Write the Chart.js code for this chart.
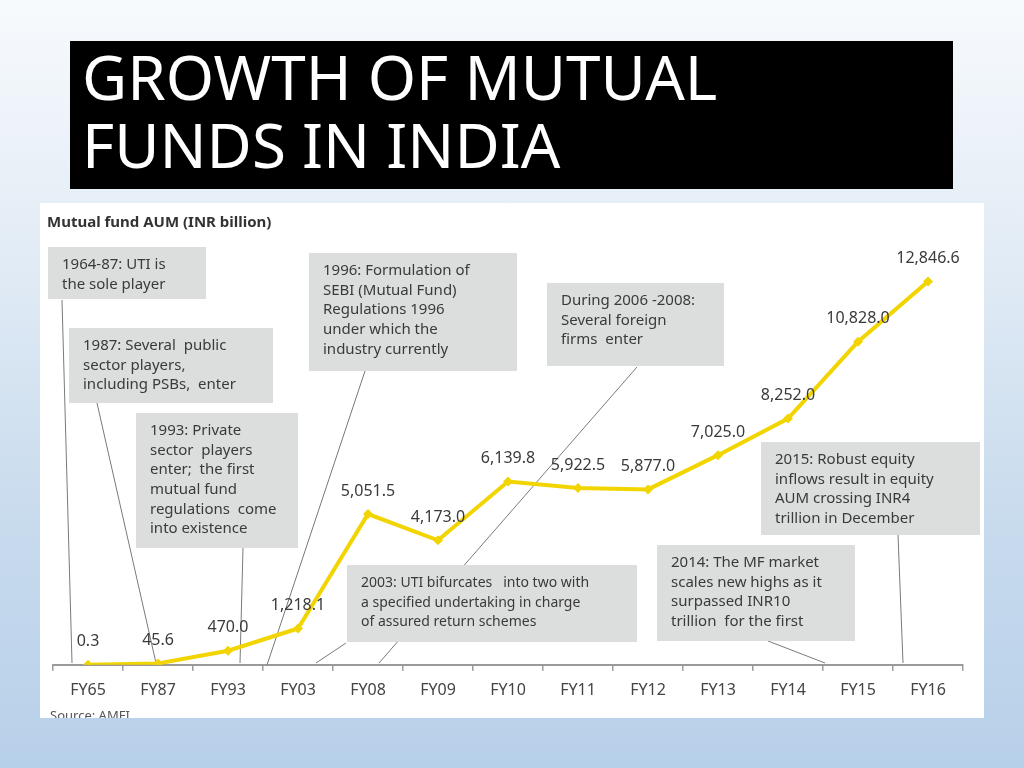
<!DOCTYPE html>
<html>
<head>
<meta charset="utf-8">
<title>Growth of Mutual Funds in India</title>
<script src="https://cdn.jsdelivr.net/npm/chart.js@4/dist/chart.umd.min.js"></script>
<style>
  html, body { margin: 0; padding: 0; }
  body {
    width: 1024px; height: 768px; position: relative; overflow: hidden;
    background: linear-gradient(to bottom, #f7fafd 0%, #e4edf6 30%, #cadcee 65%, #b7d0e9 100%);
    font-family: "Noto Sans", sans-serif;
  }
  #titleBox {
    position: absolute; left: 70px; top: 41px; width: 883px; height: 148px;
    background: #000;
  }
  #title {
    position: absolute; left: 82px; top: 42px;
    color: #fff; font-size: 62px; line-height: 68px; white-space: nowrap;
  }
  #panel {
    position: absolute; left: 40px; top: 203px; width: 944px; height: 515px;
    background: #fff;
  }
</style>
</head>
<body>
<div id="titleBox"></div>
<div id="title">GROWTH OF MUTUAL<br>FUNDS IN INDIA</div>
<div id="panel"><canvas id="aumChart" width="944" height="515"></canvas></div>

<script>
// Mutual fund AUM (INR billion), by fiscal year
const years = ['FY65', 'FY87', 'FY93', 'FY03', 'FY08', 'FY09', 'FY10', 'FY11', 'FY12', 'FY13', 'FY14', 'FY15', 'FY16'];
const aum = [0.3, 45.6, 470.0, 1218.1, 5051.5, 4173.0, 6139.8, 5922.5, 5877.0, 7025.0, 8252.0, 10828.0, 12846.6];

const chartTitle = 'Mutual fund AUM (INR billion)';
const sourceNote = 'Source: AMFI';

// milestone notes, text only
const notes = [
    ['1964-87: UTI is', 'the sole player'],
    ['1987: Several  public', 'sector players,', 'including PSBs,  enter'],
    ['1993: Private', 'sector  players', 'enter;  the first', 'mutual fund', 'regulations  come', 'into existence'],
    ['1996: Formulation of', 'SEBI (Mutual Fund)', 'Regulations 1996', 'under which the', 'industry currently'],
    ['2003: UTI bifurcates   into two with', 'a specified undertaking in charge', 'of assured return schemes'],
    ['During 2006 -2008:', 'Several foreign', 'firms  enter'],
    ['2014: The MF market', 'scales new highs as it', 'surpassed INR10', 'trillion  for the first'],
    ['2015: Robust equity', 'inflows result in equity', 'AUM crossing INR4', 'trillion in December']
];

// where each note sits on the canvas: box x, y, w, h and leader line
const noteLayout = [
    { x: 8,   y: 44,  w: 158, h: 52,  lead: [22, 97, 32, 460] },
    { x: 29,  y: 125, w: 204, h: 75,  lead: [57, 200, 116, 460] },
    { x: 96,  y: 210, w: 162, h: 135, lead: [203, 345, 200, 460] },
    { x: 269, y: 50,  w: 208, h: 118, lead: [325, 168, 227, 462] },
    { x: 307, y: 362, w: 290, h: 77,  lead: [306, 440, 276, 460] },
    { x: 507, y: 80,  w: 177, h: 83,  lead: [597, 164, 339, 460] },
    { x: 617, y: 342, w: 198, h: 96,  lead: [728, 438, 785, 460] },
    { x: 721, y: 239, w: 219, h: 93,  lead: [858, 332, 863, 460] }
];

const fontFamily = '"Noto Sans", sans-serif';

function fmt(v) {
    return v.toLocaleString('en-US', { minimumFractionDigits: 1, maximumFractionDigits: 1 });
}

// boxes, leader lines and captions drawn under the line
const notesPlugin = {
    id: 'notes',
    beforeDatasetsDraw(chart) {
        const ctx = chart.ctx;
        ctx.save();

        ctx.fillStyle = '#333';
        ctx.font = 'bold 15px ' + fontFamily;
        ctx.textBaseline = 'middle';
        ctx.fillText(chartTitle, 7, 20);

        ctx.fillStyle = '#555';
        ctx.font = '13px ' + fontFamily;
        ctx.textBaseline = 'top';
        ctx.fillText(sourceNote, 10, 507);

        ctx.strokeStyle = '#7a7a7a';
        ctx.lineWidth = 1;
        noteLayout.forEach(n => {
            ctx.beginPath();
            ctx.moveTo(n.lead[0], n.lead[1]);
            ctx.lineTo(n.lead[2], n.lead[3]);
            ctx.stroke();
        });

        noteLayout.forEach((n, i) => {
            ctx.fillStyle = '#dcdddd';
            ctx.fillRect(n.x, n.y, n.w, n.h);
            ctx.fillStyle = '#3a3a3a';
            ctx.font = (i === 4 ? '14px ' : '15px ') + fontFamily;
            ctx.textBaseline = 'middle';
            notes[i].forEach((line, j) => {
                ctx.fillText(line, n.x + 14, n.y + 18 + j * 19.6);
            });
        });
        ctx.restore();
    }
};

// value labels above each point
const valueLabels = {
    id: 'valueLabels',
    afterDatasetsDraw(chart) {
        const ctx = chart.ctx;
        const meta = chart.getDatasetMeta(0);
        ctx.save();
        ctx.fillStyle = '#3a3a3a';
        ctx.font = '16px ' + fontFamily;
        ctx.textAlign = 'center';
        ctx.textBaseline = 'middle';
        meta.data.forEach((pt, i) => {
            ctx.fillText(fmt(aum[i]), pt.x, pt.y - 23);
        });
        ctx.restore();
    }
};

new Chart(document.getElementById('aumChart'), {
    type: 'line',
    data: {
        labels: years,
        datasets: [{
            label: chartTitle,
            data: aum,
            borderColor: '#f2d500',
            backgroundColor: '#f2d500',
            borderWidth: 4,
            tension: 0,
            pointStyle: 'rectRot',
            pointRadius: 5,
            pointBorderWidth: 0
        }]
    },
    options: {
        responsive: false,
        animation: false,
        layout: { padding: { left: 13, right: 21, top: 44, bottom: 8 } },
        plugins: {
            legend: { display: false },
            tooltip: { enabled: false }
        },
        scales: {
            x: {
                offset: true,
                grid: {
                    offset: true,
                    drawOnChartArea: false,
                    drawTicks: true,
                    tickLength: 6,
                    color: '#9a9a9a',
                    lineWidth: 1.5
                },
                border: { display: true, color: '#9a9a9a', width: 2 },
                ticks: {
                    color: '#444',
                    font: { size: 16, family: fontFamily },
                    padding: 10,
                    maxRotation: 0,
                    autoSkip: false
                }
            },
            y: {
                display: false,
                min: 0,
                max: 14000
            }
        }
    },
    plugins: [notesPlugin, valueLabels]
});
</script>
</body>
</html>
